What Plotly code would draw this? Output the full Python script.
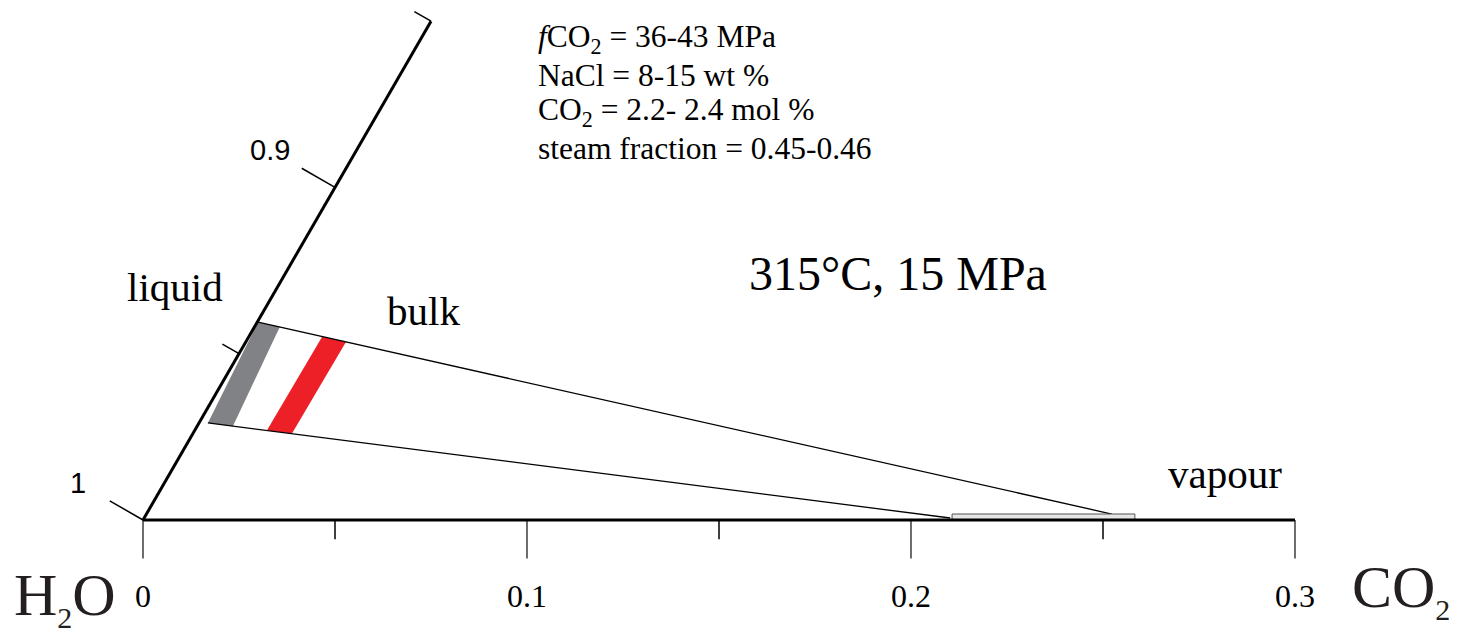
import numpy as np
import plotly.graph_objects as go

SQ = np.sqrt(3) / 2

# ---- axis ticks (composition values) ----
co2_major = [0.0, 0.1, 0.2, 0.3]
co2_major_labels = ["0", "0.1", "0.2", "0.3"]
co2_minor = [0.05, 0.15, 0.25]
h2o_major = [1.0, 0.9]
h2o_major_labels = ["1", "0.9"]
h2o_minor = [0.95, 0.85]
h2o_axis_end = 0.85
co2_axis_end = 0.3

# ---- compositions (mole fractions CO2, NaCl) ----
liquid_co2 = [0.0002, 0.0066, 0.0093, 0.0023]
liquid_nacl = [0.0595, 0.0581, 0.0282, 0.0292]
bulk_co2 = [0.0191, 0.0261, 0.0258, 0.0188]
bulk_nacl = [0.0551, 0.0535, 0.0260, 0.0269]
tie_upper_co2 = [0.0002, 0.2514]
tie_upper_nacl = [0.0595, 0.0018]
tie_lower_co2 = [0.0023, 0.2099]
tie_lower_nacl = [0.0292, 0.0006]
vapour_co2 = [0.2107, 0.2583]
vapour_nacl_max = 0.0018

info_lines = [
    "<i>f</i>CO<sub>2</sub> = 36-43 MPa",
    "NaCl = 8-15 wt %",
    "CO<sub>2</sub> = 2.2- 2.4 mol %",
    "steam fraction = 0.45-0.46",
]


def tern(co2, nacl):
    co2 = np.asarray(co2, dtype=float)
    nacl = np.asarray(nacl, dtype=float)
    return co2 + nacl / 2, nacl * SQ


TICK_DIR = np.array([-SQ, 0.5])
MAJ = 0.01
MIN = 0.005

fig = go.Figure()


def line(x, y, color="black", width=1.5):
    fig.add_trace(go.Scatter(x=list(x), y=list(y), mode="lines",
                             line=dict(color=color, width=width),
                             hoverinfo="skip", showlegend=False))


def poly(x, y, fill, lc=None, lw=0):
    x = list(x) + [x[0]]
    y = list(y) + [y[0]]
    fig.add_trace(go.Scatter(x=x, y=y, mode="lines", fill="toself",
                             fillcolor=fill,
                             line=dict(color=lc if lc else fill, width=lw if lc else 0),
                             hoverinfo="skip", showlegend=False))


# bands
lx, ly = tern(liquid_co2, liquid_nacl)
poly(lx, ly, "#808285")
bx, by = tern(bulk_co2, bulk_nacl)
poly(bx, by, "#ED2027")

# tie lines
tx, ty = tern(tie_upper_co2, tie_upper_nacl)
line(tx, ty, width=1.3)
tx, ty = tern(tie_lower_co2, tie_lower_nacl)
line(tx, ty, width=1.3)

# vapour box
vx, _ = tern(vapour_co2, [0, 0])
_, vtop = tern([0], [vapour_nacl_max])
poly([vx[0], vx[1], vx[1], vx[0]], [0, 0, vtop[0], vtop[0]], "#E6E6E6", "#555555", 1)

# bottom ticks
for c in co2_major:
    line([c, c], [0, -MAJ], color="#6d6d6d", width=2)
for c in co2_minor:
    line([c, c], [0, -MIN], color="black", width=1.5)

# left ticks
for h, L in [(v, MAJ) for v in h2o_major] + [(v, MIN) for v in h2o_minor]:
    n = 1 - h
    x0, y0 = tern([0], [n])
    line([x0[0], x0[0] + L * TICK_DIR[0]], [y0[0], y0[0] + L * TICK_DIR[1]], width=1.5)

# axes
ax, ay = tern([0, co2_axis_end], [0, 0])
line(ax, ay, width=3)
ax, ay = tern([0, 0], [0, 1 - h2o_axis_end])
line(ax, ay, width=3)

SERIF = "Liberation Serif, Times New Roman, serif"
SANS = "Liberation Sans, Arial, sans-serif"
ann = []

# bottom tick labels
for c, lab in zip(co2_major, co2_major_labels):
    ann.append(dict(x=c, y=-0.0198, text=lab, showarrow=False,
                    font=dict(family=SERIF, size=32, color="black"),
                    xanchor="center", yanchor="middle"))
# left tick labels
for h, lab in zip(h2o_major, h2o_major_labels):
    x0, y0 = tern([0], [1 - h])
    ann.append(dict(x=x0[0] + 0.0195 * TICK_DIR[0], y=y0[0] + 0.0195 * TICK_DIR[1],
                    text=lab, showarrow=False,
                    font=dict(family=SANS, size=29, color="black"),
                    xanchor="center", yanchor="middle"))

info_y = [0.12526, 0.11576, 0.10625, 0.09674]
for t, yy in zip(info_lines, info_y):
    ann.append(dict(x=0.1024, y=yy, text=t, showarrow=False,
                    font=dict(family=SERIF, size=31.5, color="black"),
                    xanchor="left", yanchor="middle"))

ann.append(dict(x=0.1966, y=0.0643, text="315°C, 15 MPa", showarrow=False,
                font=dict(family=SERIF, size=48, color="black"),
                xanchor="center", yanchor="middle"))
ann.append(dict(x=0.00833, y=0.0607, text="liquid", showarrow=False,
                font=dict(family=SERIF, size=41, color="black"),
                xanchor="center", yanchor="middle"))
ann.append(dict(x=0.07292, y=0.05443, text="bulk", showarrow=False,
                font=dict(family=SERIF, size=41, color="black"),
                xanchor="center", yanchor="middle"))
ann.append(dict(x=0.28177, y=0.01198, text="vapour", showarrow=False,
                font=dict(family=SERIF, size=41, color="black"),
                xanchor="center", yanchor="middle"))
ann.append(dict(x=-0.03411, y=-0.0203,
                text='H<sub><span style="font-size:30px">2</span></sub>O', showarrow=False,
                font=dict(family=SERIF, size=60, color="#231F20"),
                xanchor="left", yanchor="middle"))
ann.append(dict(x=0.31432, y=-0.01823,
                text='CO<sub><span style="font-size:30px">2</span></sub>', showarrow=False,
                font=dict(family=SERIF, size=60, color="#231F20"),
                xanchor="left", yanchor="middle"))

fig.update_layout(
    width=1472, height=637, autosize=False,
    margin=dict(l=0, r=0, t=0, b=0),
    paper_bgcolor="white", plot_bgcolor="white",
    xaxis=dict(visible=False, range=[-143 / 3840, (1472 - 143) / 3840], fixedrange=True),
    yaxis=dict(visible=False, range=[-117 / 3840, 520 / 3840], fixedrange=True),
    annotations=ann,
)

fig.write_html("out.html", config={"displayModeBar": False},
               post_script="document.body.style.margin='0';")
